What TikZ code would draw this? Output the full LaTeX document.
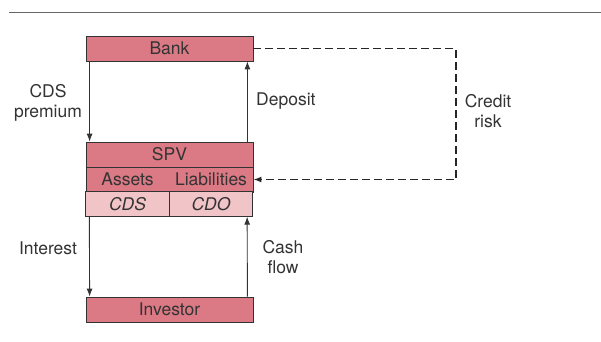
\documentclass[tikz,border=0pt]{standalone}
\usepackage{fontspec}
\setmainfont{TeX Gyre Heros}
\usetikzlibrary{calc, arrows.meta}
\definecolor{boxred}{RGB}{219,121,133}
\definecolor{boxpink}{RGB}{241,196,200}
\definecolor{ink}{RGB}{51,51,51}
\newcommand{\bigfont}{\fontsize{17.5}{19.5}\selectfont}
\tikzstyle{blk}=[draw=ink, fill=boxred, line width=0.8pt, minimum width=167pt, minimum height=25pt, inner sep=0pt]
\tikzstyle{half}=[draw=ink, fill=boxpink, line width=0.8pt, minimum width=83.5pt, minimum height=24.5pt, inner sep=0pt, font=\bigfont\itshape]
\tikzstyle{lbl}=[align=center, inner sep=0pt]
\tikzstyle{flow}=[->, draw=ink, line width=0.9pt]

\begin{document}
\begin{tikzpicture}[x=1pt,y=1pt,node distance=25pt,>={Latex[length=8pt,width=6pt]},font=\bigfont,text=ink]
      \useasboundingbox (0,0) rectangle (601,-341);
      \coordinate (rulea) at (9,-12);
      \coordinate (ruleb) at (601,-12);
      \draw[gray!80!black, line width=0.9pt] (rulea) -- (ruleb);

      \node [blk] (bank) at (169.5,-48.5) {Bank};
      \node [blk] (spv) [below of=bank, node distance=106pt] {SPV};
      \node [blk] (al) [below of=spv] {};
      \node (assets) [left of=al, node distance=42pt] {Assets};
      \node (liab) [right of=al, node distance=41.5pt] {Liabilities};
      \node [half] (cds) [below of=assets, node distance=24.5pt] {CDS};
      \node [half] (cdo) [below of=liab, node distance=24.5pt] {CDO};
      \node [blk] (inv) [below of=spv, node distance=155pt] {Investor};

      % arrow ends, a little inside the box edges
      \coordinate (bankl) at ($(bank.south west)+(4,0)$);
      \coordinate (bankr) at ($(bank.south east)+(-6,0)$);
      \coordinate (spvl) at ($(spv.north west)+(4,0)$);
      \coordinate (spvr) at ($(spv.north east)+(-6,0)$);
      \coordinate (cdsl) at ($(cds.south west)+(4,0)$);
      \coordinate (cdor) at ($(cdo.south east)+(-6,0)$);
      \coordinate (invl) at ($(inv.north west)+(4,0)$);
      \coordinate (invr) at ($(inv.north east)+(-6,0)$);
      \coordinate (rk) at (456,-110);

      \node [lbl] (prem) at (48,-103) {CDS\\premium};
      \node [lbl, anchor=west] (dep) at (256,-101) {Deposit};
      \node [lbl] (risk) at (488,-111) {Credit\\risk};
      \node [lbl] (int) at (48,-248) {Interest};
      \node [lbl] (cash) at (283,-257) {Cash\\flow};

      \draw[flow] (bankl) -- (spvl);
      \draw[flow] (spvr) -- (bankr);
      \draw[flow] (cdsl) -- (invl);
      \draw[flow] (invr) -- (cdor);
      \draw[flow, draw=black!85, line width=1.4pt, dash pattern=on 8pt off 4pt] (bank.east) -| (rk) |- (al.east);
\end{tikzpicture}
\end{document}
